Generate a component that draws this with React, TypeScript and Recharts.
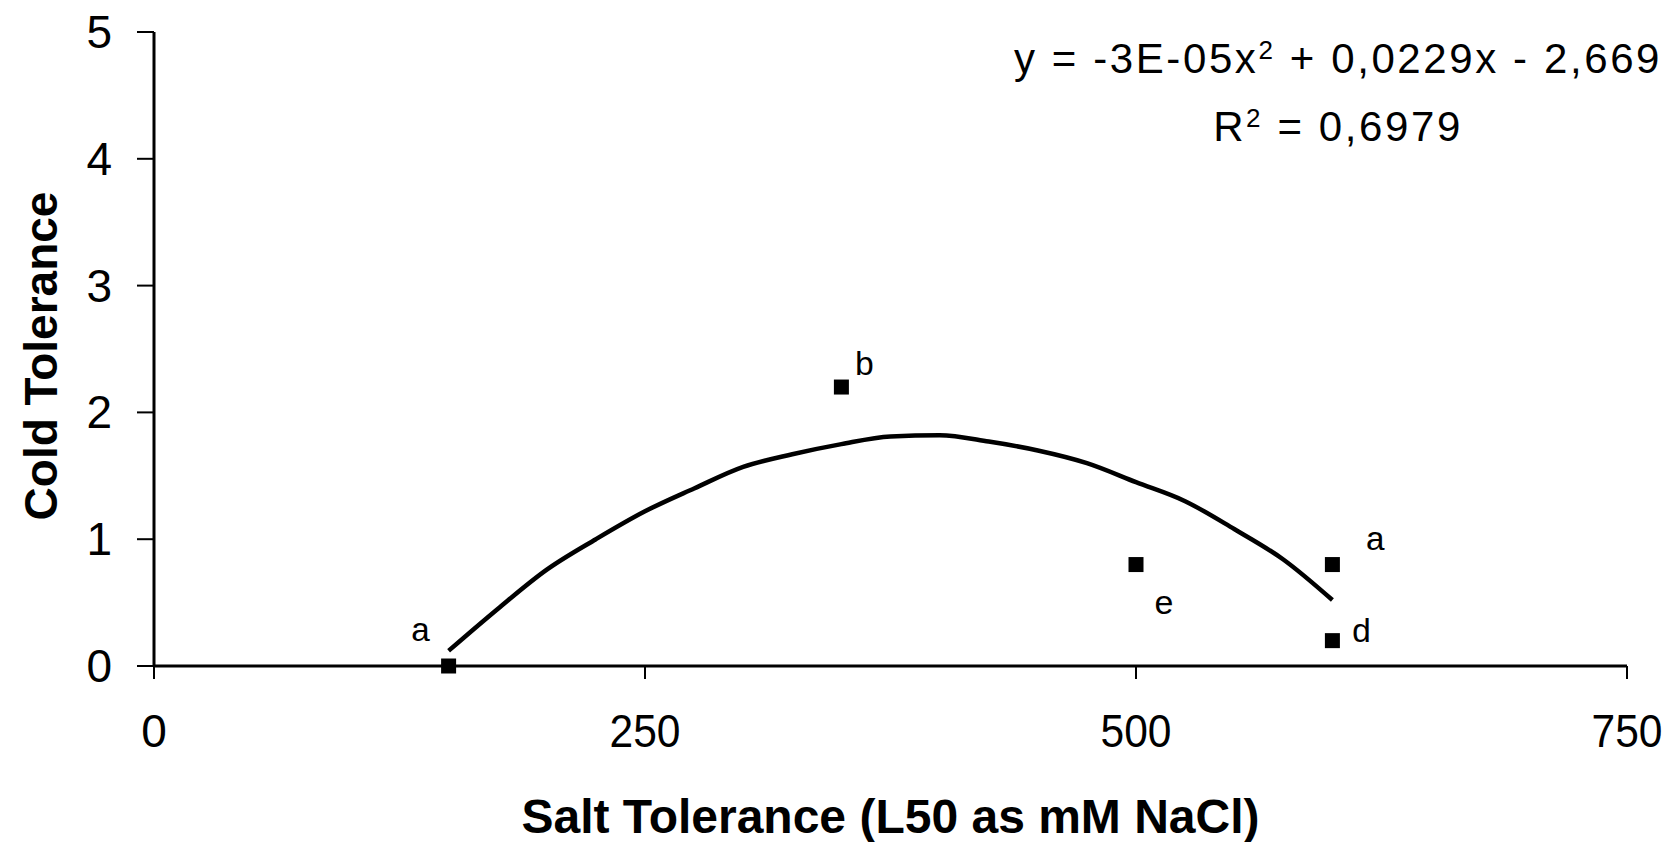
import React from 'react'
import { ComposedChart, Scatter, Line, XAxis, YAxis, LabelList } from 'recharts'

// measured points (salt tolerance vs cold tolerance)
const salt = [150, 350, 500, 600, 600]
const cold = [0, 2.2, 0.8, 0.8, 0.2]
const letters = ['a', 'b', 'e', 'a', 'd']

// polynomial trendline as drawn in the figure
const trendX = [150, 175, 200, 225, 250, 275, 300, 325, 350, 375, 400, 425, 450, 475, 500, 525, 550, 575, 600]
const trendY = [0.12, 0.45, 0.76, 1.0, 1.22, 1.4, 1.57, 1.67, 1.75, 1.81, 1.82, 1.77, 1.7, 1.6, 1.45, 1.3, 1.08, 0.84, 0.52]

const xTicks = [0, 250, 500, 750]
const yTicks = [0, 1, 2, 3, 4, 5]

const points = salt.map((x, i) => ({ x, y: cold[i], tag: letters[i] }))
const trend = trendX.map((x, i) => ({ x, y: trendY[i] }))

// where each letter sits relative to its marker (dx, dy to baseline)
const tagOffset: [number, number][] = [[-28, -25], [23, -12], [28, 49], [43, -15], [29, 1]]

const SANS = '"Liberation Sans", Arial, sans-serif'

function XTick({ x, y, payload }: any) {
  return (
    <text x={x} y={y + 33} textAnchor="middle" fontFamily={SANS} fontSize={46}
      textLength={payload.value === 0 ? undefined : 71} lengthAdjust="spacingAndGlyphs" fill="#000">
      {payload.value}
    </text>
  )
}

function YTick({ x, y, payload }: any) {
  return (
    <text x={x} y={y + 16} textAnchor="end" fontFamily={SANS} fontSize={46} fill="#000">
      {payload.value}
    </text>
  )
}

function Square({ cx, cy }: any) {
  return <rect x={cx - 7.5} y={cy - 7.5} width={15} height={15} fill="#000" />
}

function Tag(props: any) {
  const { x, y, width, height, value, index } = props
  const [dx, dy] = tagOffset[index] ?? [0, 0]
  return (
    <text x={x + width / 2 + dx} y={y + height / 2 + dy} textAnchor="middle"
      fontFamily='"Liberation Mono", "Courier New", monospace' fontSize={34} fill="#000">
      {value}
    </text>
  )
}

export default function App() {
  return (
    <div style={{ position: 'absolute', left: 0, top: 0, width: 1679, height: 842, background: '#fff', overflow: 'hidden' }}>
      <ComposedChart width={1679} height={842} margin={{ top: 32, right: 52, bottom: 0, left: 0 }}>
        <XAxis
          type="number" dataKey="x" domain={[0, 750]} ticks={xTicks} height={176}
          allowDuplicatedCategory={false}
          axisLine={{ stroke: '#000', strokeWidth: 3 }}
          tickLine={{ stroke: '#000', strokeWidth: 2 }} tickSize={13} tickMargin={35}
          tick={<XTick />}
          label={{
            content: ({ viewBox }: any) => (
              <text x={viewBox.x + viewBox.width / 2} y={viewBox.y + 167} textAnchor="middle"
                fontFamily={SANS} fontWeight="bold" fontSize={48} fill="#000">
                Salt Tolerance (L50 as mM NaCl)
              </text>
            ),
          }}
        />
        <YAxis
          type="number" dataKey="y" domain={[0, 5]} ticks={yTicks} width={154}
          axisLine={{ stroke: '#000', strokeWidth: 3 }}
          tickLine={{ stroke: '#000', strokeWidth: 2 }} tickSize={17} tickMargin={25}
          tick={<YTick />}
          label={{
            content: ({ viewBox }: any) => {
              const cx = viewBox.x + 57
              const cy = viewBox.y + viewBox.height / 2 + 7
              return (
                <text x={cx} y={cy} transform={`rotate(-90 ${cx} ${cy})`} textAnchor="middle"
                  fontFamily={SANS} fontWeight="bold" fontSize={46} fill="#000">
                  Cold Tolerance
                </text>
              )
            },
          }}
        />
        <Line data={trend} dataKey="y" type="monotone" stroke="#000" strokeWidth={4.5}
          dot={false} activeDot={false} isAnimationActive={false} />
        <Scatter data={points} dataKey="y" shape={<Square />} isAnimationActive={false}>
          <LabelList dataKey="tag" content={<Tag />} />
        </Scatter>
      </ComposedChart>
      <div style={{
        position: 'absolute', left: 1008, top: 25, width: 660, textAlign: 'center', whiteSpace: 'nowrap',
        fontFamily: SANS, fontSize: 42, lineHeight: '68px', letterSpacing: 2.6, color: '#000',
      }}>
        <div>y = -3E-05x<sup style={{ fontSize: 26, verticalAlign: 14, lineHeight: 0 }}>2</sup> + 0,0229x - 2,669</div>
        <div>R<sup style={{ fontSize: 26, verticalAlign: 14, lineHeight: 0 }}>2</sup> = 0,6979</div>
      </div>
    </div>
  )
}
